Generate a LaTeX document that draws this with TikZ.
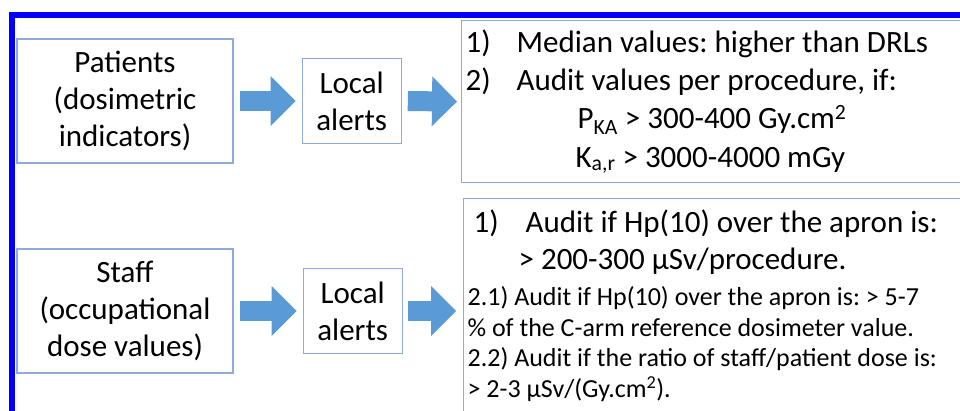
\documentclass[tikz,border=0pt]{standalone}
\usepackage{fontspec}
\setmainfont{Carlito}
\usepackage{tikz}
\usetikzlibrary{arrows.meta,positioning}
\definecolor{frameblue}{RGB}{0,0,255}
\definecolor{boxline}{RGB}{143,170,214}
\definecolor{arrowblue}{RGB}{91,155,213}
\newcommand{\fixspace}{\spaceskip=.226em\relax\xspaceskip=.226em\relax}
\newcommand{\bigfont}{\fontsize{31pt}{37pt}\selectfont\fixspace}
\newcommand{\smallfont}{\fontsize{26pt}{30.5pt}\selectfont\fixspace}

\begin{document}
\begin{tikzpicture}[
    x=1pt, y=-1pt,
    source/.style={rectangle, draw=boxline, line width=1.2pt,
                minimum width=216pt, minimum height=124pt,
                align=center, font=\bigfont},
    alertbox/.style={rectangle, draw=boxline, line width=1.2pt,
                minimum width=99pt, minimum height=85pt,
                align=center, font=\bigfont, inner sep=2pt},
    rulebox/.style={rectangle, draw=boxline, line width=1.2pt,
                anchor=north west, text width=500pt, inner xsep=4pt, align=left},
    fat/.style={draw=arrowblue, line width=20pt,
                -{Triangle[length=25pt, width=50pt, line width=0pt]}}
]
\useasboundingbox (0,0) rectangle (960,410);
\clip (0,0) rectangle (960,410);

% Frame
\draw[frameblue, line width=6pt] (11.5,500) -- (11.5,14.5) -- (1000,14.5);

\node[source] (patients) at (125,101) {Patients\\(dosimetric\\indicators)};
\node[alertbox, right=68pt of patients] (patalerts) {Local\\alerts};
\node[rulebox, minimum height=162pt] (patrule) at (461,20) {%
{\fontsize{31pt}{38.3pt}\selectfont\fixspace
\makebox[51pt][l]{1)}Median values: higher than DRLs\\
\makebox[51pt][l]{2)}Audit values per procedure, if:\\
\hspace*{112pt}P\textsubscript{KA} > 300-400 Gy.cm\textsuperscript{2}\\
\hspace*{110pt}K\textsubscript{a,r} > 3000-4000 mGy\par}};

\node[source] (staff) at (125,311) {Staff\\(occupational\\dose values)};
\node[alertbox, right=69pt of staff] (staffalerts) {Local\\alerts};
\node[rulebox, inner ysep=11pt] (staffrule) at (463,198) {%
{\bigfont\hspace*{6pt}\makebox[52pt][l]{1)}Audit if Hp(10) over the apron is:\\
\hspace*{51pt}> 200-300 µSv/procedure.\par}
\vspace{6pt}
{\smallfont 2.1) Audit if Hp(10) over the apron is: > 5-7\\
\% of the C-arm reference dosimeter value.\\
2.2) Audit if the ratio of staff/patient dose is:\\
> 2-3 µSv/(Gy.cm\textsuperscript{2}).\par}};

% Block arrows
\coordinate (staffin) at (staffalerts.east -| staffrule.west);
\draw[fat] ([xshift=6pt]patients.east) -- ([xshift=-6pt]patalerts.west);
\draw[fat] ([xshift=6pt]patalerts.east) -- ([xshift=-4pt]patrule.west);
\draw[fat] ([xshift=6pt]staff.east) -- ([xshift=-6pt]staffalerts.west);
\draw[fat] ([xshift=5pt]staffalerts.east) -- ([xshift=-7pt]staffin);
\end{tikzpicture}
\end{document}
